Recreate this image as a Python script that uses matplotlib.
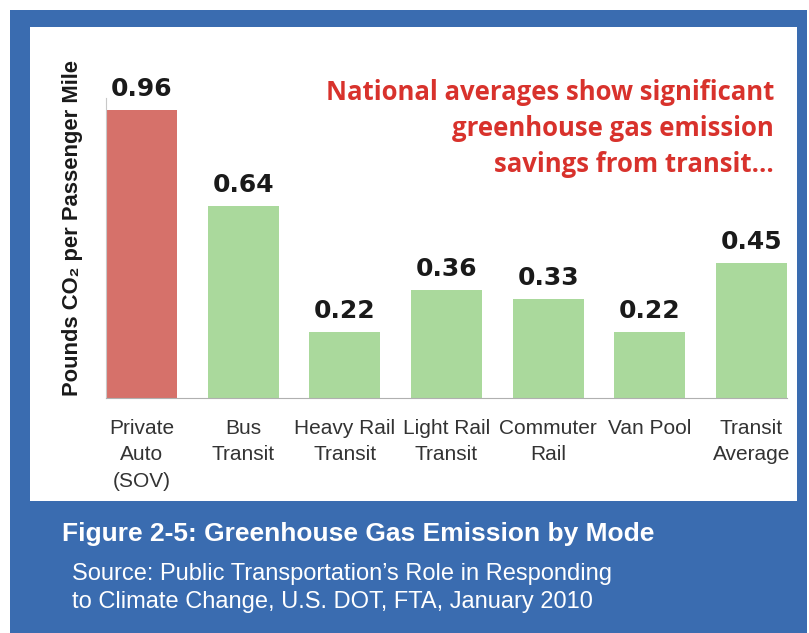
import matplotlib.pyplot as plt
from matplotlib.patches import Rectangle

modes = ['Private\nAuto\n(SOV)', 'Bus\nTransit', 'Heavy Rail\nTransit', 'Light Rail\nTransit',
         'Commuter\nRail', 'Van Pool', 'Transit\nAverage']
co2_per_mile = [0.96, 0.64, 0.22, 0.36, 0.33, 0.22, 0.45]
bar_colors = ['#d6716a'] + ['#aad99c'] * 6

W, H = 809, 633
BLUE = '#3a6cb0'


def fx(px):
    return px / W


def fy(py):
    return 1 - py / H


fig = plt.figure(figsize=(W / 100, H / 100), dpi=100)
fig.patch.set_facecolor('white')

# blue frame and white chart panel
fig.add_artist(Rectangle((fx(10), 0), fx(807) - fx(10), fy(10), transform=fig.transFigure,
                         facecolor=BLUE, edgecolor='none', zorder=0))
fig.add_artist(Rectangle((fx(30), fy(501)), fx(797) - fx(30), fy(27) - fy(501),
                         transform=fig.transFigure, facecolor='white', edgecolor='none', zorder=0))

ax = fig.add_axes([fx(106), fy(398), fx(787) - fx(106), fy(98) - fy(398)])
ax.set_facecolor('none')
x = range(len(modes))
ax.bar(x, co2_per_mile, width=0.7, color=bar_colors, edgecolor='none')
for i, v in enumerate(co2_per_mile):
    ax.text(i, v + 0.03, f'{v:.2f}', ha='center', va='bottom', fontsize=18,
            fontweight='bold', family='DejaVu Sans', color='#1a1a1a')

ax.set_xlim(-0.35, 6.35)
ax.set_ylim(0, 1.0)
ax.set_yticks([])
ax.set_xticks(list(x))
ax.set_xticklabels(modes, fontsize=15, family='Liberation Sans', color='#333333', linespacing=1.5)
ax.tick_params(axis='x', length=0, pad=15)
for s in ['top', 'right']:
    ax.spines[s].set_visible(False)
ax.spines['bottom'].set_color('#b0b0b0')
ax.spines['left'].set_color('#c8c8c8')
ax.spines['left'].set_linewidth(0.8)

fig.text(fx(73), fy(228), 'Pounds CO₂ per Passenger Mile', rotation=90, ha='center', va='center',
         fontsize=15.8, fontweight='bold', family=['Liberation Sans', 'DejaVu Sans'], color='#1a1a1a')

fig.text(fx(774), fy(79), 'National averages show significant\ngreenhouse gas emission\nsavings from transit...',
         ha='right', va='top', multialignment='right', fontsize=18.5, fontweight='bold',
         family='Open Sans', color='#d8322c', linespacing=1.42)

fig.text(fx(62), fy(534), 'Figure 2-5: Greenhouse Gas Emission by Mode', ha='left', va='center',
         fontsize=19, fontweight='bold', family='Liberation Sans', color='white')
fig.text(fx(72), fy(588), 'Source: Public Transportation\u2019s Role in Responding\nto Climate Change, U.S. DOT, FTA, January 2010',
         ha='left', va='center', fontsize=17, family='Liberation Sans', color='white', linespacing=1.4)

fig.savefig('out.png', dpi=100, facecolor=fig.get_facecolor())
